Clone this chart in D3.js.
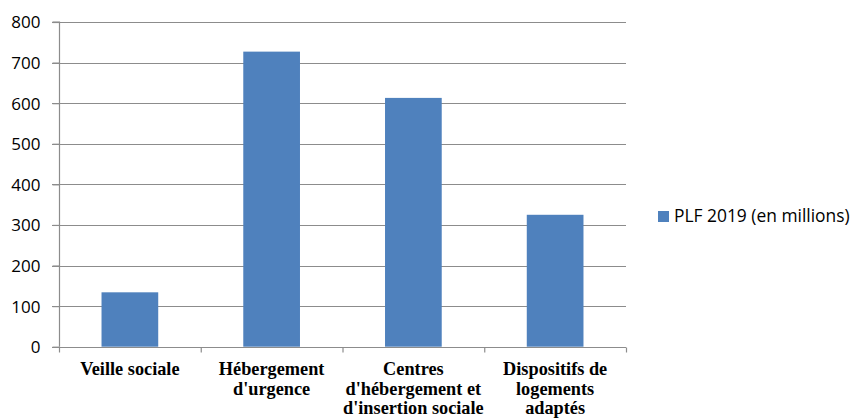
<!DOCTYPE html>
<html><head><meta charset="utf-8">
<script src="https://cdn.jsdelivr.net/npm/d3@7/dist/d3.min.js"></script>
<style>body{margin:0;background:#fff}svg{display:block}</style>
</head><body>
<svg id="c" width="855" height="418"></svg>
<script>
const categories = ["Veille sociale", "Hébergement d'urgence", "Centres d'hébergement et d'insertion sociale", "Dispositifs de logements adaptés"];
const categoryLines = [["Veille sociale"], ["Hébergement", "d'urgence"], ["Centres", "d'hébergement et", "d'insertion sociale"], ["Dispositifs de", "logements", "adaptés"]];
const values = [134, 727, 613, 325];
const yTicks = [0, 100, 200, 300, 400, 500, 600, 700, 800];
const seriesName = "PLF 2019 (en millions)";

(function () {
const svg = d3.select("#c");
const pl = 59, pr = 626, pt = 22, pb = 346.7;
const x = d3.scaleBand().domain(categories).range([pl, pr]).padding(0);
const y = d3.scaleLinear().domain([0, 800]).range([pb, pt]);
const grid = "#8c8c8c";

// gridlines
svg.append("g").selectAll("line").data(yTicks.filter(d => d > 0)).join("line")
  .attr("x1", pl - 7).attr("x2", pr)
  .attr("y1", d => Math.round(y(d)) + 0.5).attr("y2", d => Math.round(y(d)) + 0.5)
  .attr("stroke", grid).attr("stroke-width", 1.2);

// bars
const bw = x.bandwidth() * 0.4;
svg.append("g").selectAll("rect").data(values).join("rect")
  .attr("x", (d, i) => x(categories[i]) + (x.bandwidth() - bw) / 2)
  .attr("width", bw)
  .attr("y", d => y(d))
  .attr("height", d => y(0) - y(d))
  .attr("fill", "#4F81BD");

// y axis
const yAxis = svg.append("g").attr("transform", `translate(${pl + 0.5},0)`)
  .call(d3.axisLeft(y).tickValues(yTicks).tickSize(7).tickPadding(12));
yAxis.select(".domain").attr("stroke", grid).attr("stroke-width", 1.2).attr("d", `M-7,${pt}H0V${pb}`);
yAxis.selectAll(".tick line").attr("stroke", grid).attr("stroke-width", 1.2);
yAxis.selectAll(".tick text").attr("font-family", "Open Sans, sans-serif").attr("font-size", 17).attr("fill", "#000").attr("dy", "0.35em");

// x axis
const xAxis = svg.append("g").attr("transform", `translate(0,${Math.round(pb) + 0.5})`)
  .call(d3.axisBottom(x).tickSize(0).tickFormat(""));
xAxis.select(".domain").attr("stroke", grid).attr("stroke-width", 1.2).attr("d", `M${pl - 7},0H${pr}`);
xAxis.selectAll(".tick").remove();
const bounds = [pl, ...categories.map(c => x(c) + x.bandwidth())];
xAxis.selectAll("line.tk").data(bounds).join("line").attr("class", "tk")
  .attr("x1", d => d + 0.5).attr("x2", d => d + 0.5).attr("y1", 0).attr("y2", 5)
  .attr("stroke", grid).attr("stroke-width", 1.2);

const labels = svg.append("g");
categories.forEach((c, i) => {
  const t = labels.append("text")
    .attr("x", x(c) + x.bandwidth() / 2).attr("y", 375)
    .attr("text-anchor", "middle")
    .attr("font-family", "Liberation Serif, Times New Roman, serif")
    .attr("font-weight", "bold").attr("font-size", 18.3).attr("fill", "#000");
  categoryLines[i].forEach((l, j) => {
    t.append("tspan").attr("x", x(c) + x.bandwidth() / 2).attr("y", 375 + j * 19.6).text(l);
  });
});

// legend
const lg = svg.append("g");
lg.append("rect").attr("x", 658).attr("y", 211).attr("width", 11).attr("height", 11).attr("fill", "#4F81BD");
lg.append("text").attr("x", 674).attr("y", 222).attr("font-family", "Open Sans, sans-serif")
  .attr("font-size", 17.4).attr("fill", "#000").text(seriesName);
})();
</script>
</body></html>
